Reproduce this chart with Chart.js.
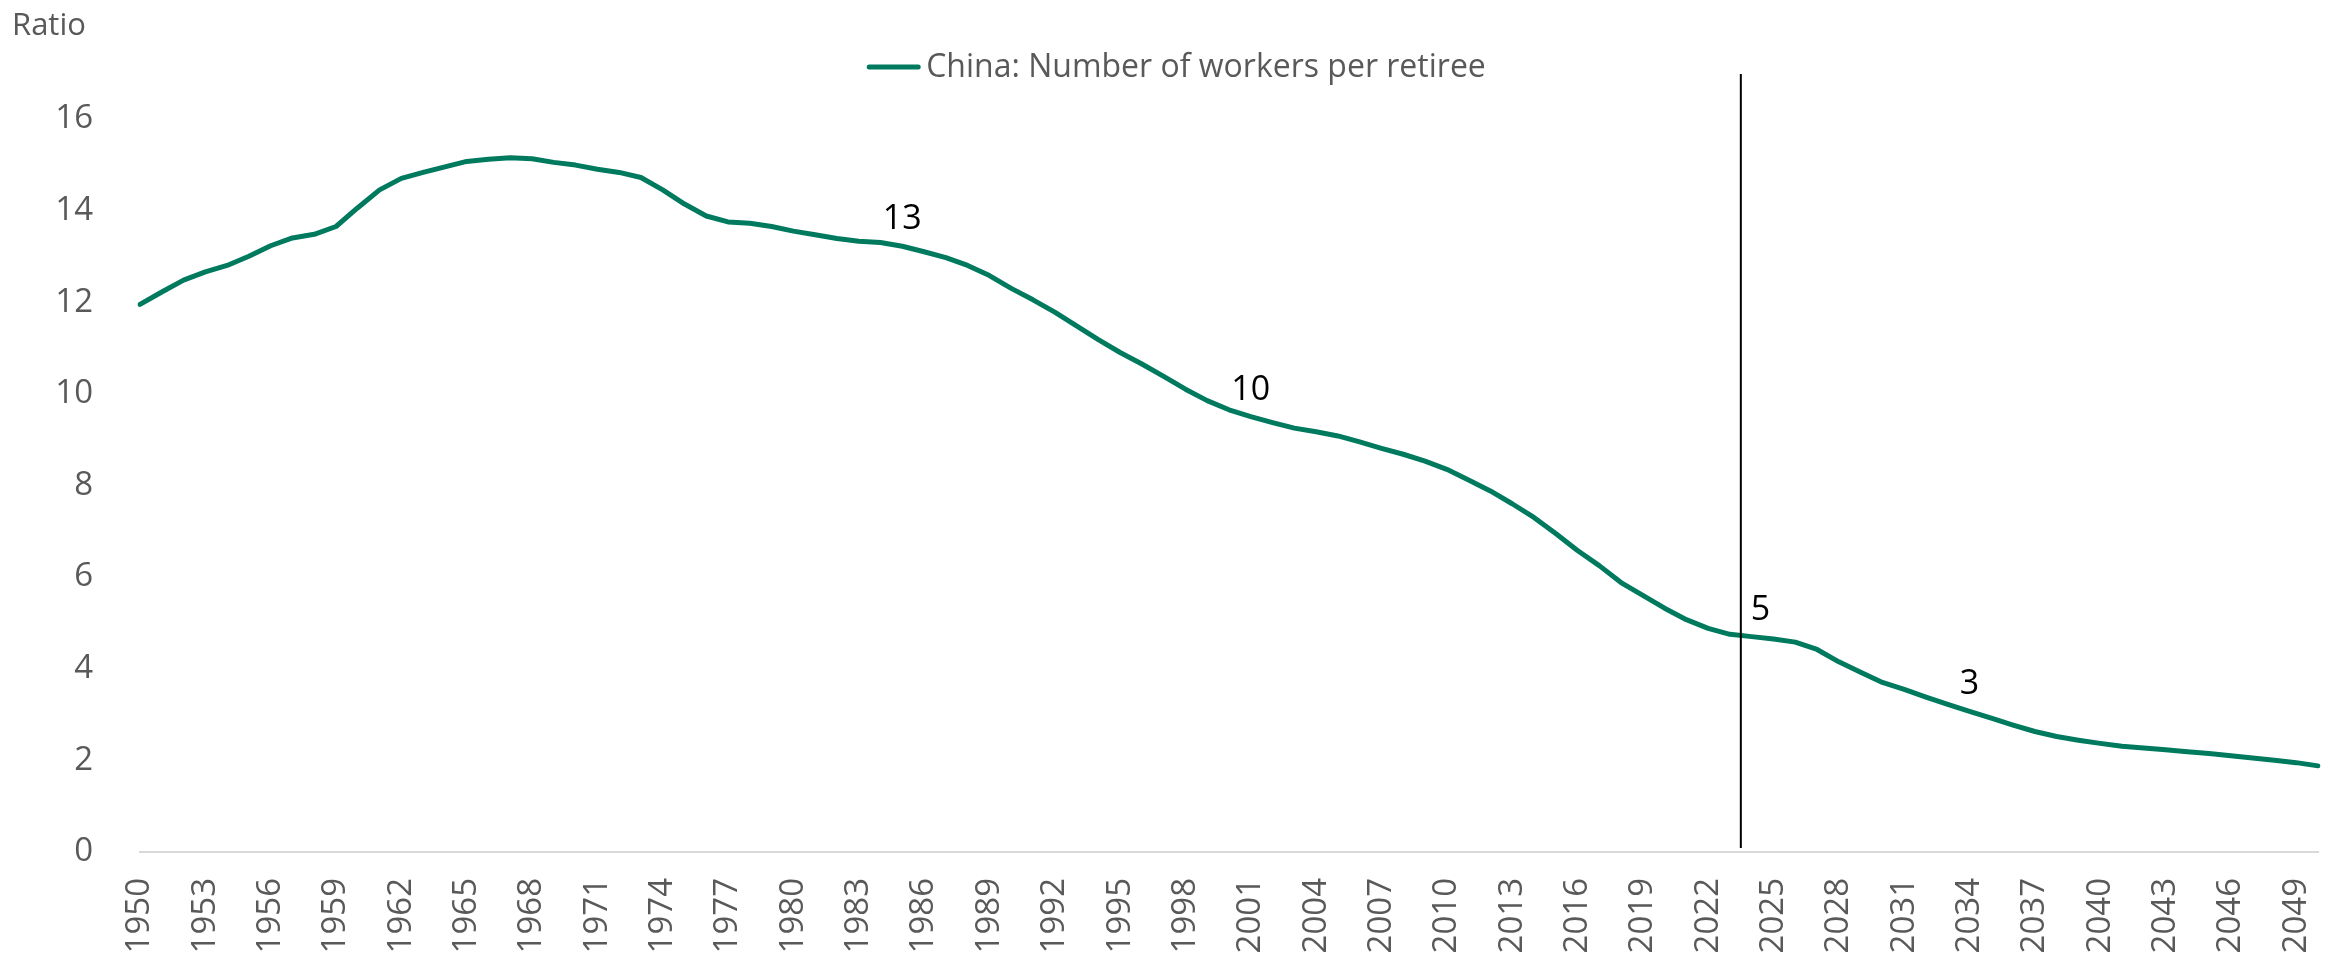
<!DOCTYPE html>
<html>
<head>
<meta charset="utf-8">
<script src="https://cdn.jsdelivr.net/npm/chart.js@4.4.1/dist/chart.umd.min.js"></script>
<style>
  html, body { margin: 0; padding: 0; background: #fff; }
  #wrap { width: 2331px; height: 954px; }
</style>
</head>
<body>
<div id="wrap"><canvas id="chart" width="2331" height="954"></canvas></div>
<script>
// categories: years 1950-2050
const years = [
  1950, 1951, 1952, 1953, 1954, 1955, 1956, 1957, 1958, 1959,
  1960, 1961, 1962, 1963, 1964, 1965, 1966, 1967, 1968, 1969,
  1970, 1971, 1972, 1973, 1974, 1975, 1976, 1977, 1978, 1979,
  1980, 1981, 1982, 1983, 1984, 1985, 1986, 1987, 1988, 1989,
  1990, 1991, 1992, 1993, 1994, 1995, 1996, 1997, 1998, 1999,
  2000, 2001, 2002, 2003, 2004, 2005, 2006, 2007, 2008, 2009,
  2010, 2011, 2012, 2013, 2014, 2015, 2016, 2017, 2018, 2019,
  2020, 2021, 2022, 2023, 2024, 2025, 2026, 2027, 2028, 2029,
  2030, 2031, 2032, 2033, 2034, 2035, 2036, 2037, 2038, 2039,
  2040, 2041, 2042, 2043, 2044, 2045, 2046, 2047, 2048, 2049,
  2050
];

// workers per retiree
const workersPerRetiree = [
  11.95, 12.22, 12.48, 12.66, 12.80, 13.00, 13.23, 13.40, 13.48, 13.65,
  14.06, 14.45, 14.70, 14.83, 14.95, 15.07, 15.12, 15.15, 15.13, 15.05,
  14.99, 14.90, 14.83, 14.72, 14.45, 14.14, 13.88, 13.75, 13.72, 13.65,
  13.55, 13.47, 13.39, 13.33, 13.30, 13.22, 13.10, 12.97, 12.80, 12.58,
  12.30, 12.05, 11.78, 11.48, 11.18, 10.90, 10.65, 10.38, 10.10, 9.85,
  9.65, 9.50, 9.37, 9.25, 9.17, 9.08, 8.95, 8.81, 8.68, 8.53,
  8.35, 8.12, 7.88, 7.60, 7.30, 6.95, 6.58, 6.25, 5.88, 5.60,
  5.32, 5.07, 4.88, 4.75, 4.70, 4.65, 4.58, 4.42, 4.15, 3.92,
  3.70, 3.55, 3.38, 3.22, 3.07, 2.92, 2.77, 2.63, 2.52, 2.44,
  2.37, 2.31, 2.27, 2.23, 2.19, 2.15, 2.10, 2.05, 2.00, 1.95,
  1.88
];

const seriesLabel = 'China: Number of workers per retiree';
const axisTitle = 'Ratio';
const yTicks = [0, 2, 4, 6, 8, 10, 12, 14, 16];
const labelledYears = [1985, 2001, 2024, 2034];
const projectionStart = 2024;

const GREEN = '#007a5e';
const GREY = '#595959';
const FONT = '"Open Sans", "Noto Sans", sans-serif';

// vertical divider + value labels
const markers = {
  id: 'markers',
  afterDatasetsDraw(chart) {
    const { ctx, chartArea, scales: { x, y } } = chart;
    const i = years.indexOf(projectionStart);
    const lineX = (x.getPixelForValue(i - 1) + x.getPixelForValue(i)) / 2;
    ctx.save();
    ctx.strokeStyle = '#000';
    ctx.lineWidth = 2;
    ctx.beginPath();
    ctx.moveTo(lineX, chartArea.top + 1);
    ctx.lineTo(lineX, chartArea.bottom - 4);
    ctx.stroke();

    ctx.font = '34px ' + FONT;
    ctx.fillStyle = '#000';
    ctx.textAlign = 'center';
    ctx.textBaseline = 'alphabetic';
    labelledYears.forEach(yr => {
      const idx = years.indexOf(yr);
      const v = workersPerRetiree[idx];
      const txt = String(Math.round(v));
      const half = ctx.measureText(txt).width / 2;
      let px = x.getPixelForValue(idx);
      if (Math.abs(px - lineX) < half + 6) px = lineX + half + 10;
      ctx.fillText(txt, px, y.getPixelForValue(v) - 17);
    });
    ctx.restore();
  }
};

// "Ratio" title and the legend
const header = {
  id: 'header',
  afterDraw(chart) {
    const { ctx } = chart;
    ctx.save();
    ctx.fillStyle = GREY;
    ctx.textBaseline = 'middle';
    ctx.textAlign = 'left';
    ctx.font = '31px ' + FONT;
    ctx.fillText(axisTitle, 12, 26);

    const ds = chart.data.datasets[0];
    ctx.font = '32px ' + FONT;
    const tw = ctx.measureText(ds.label).width;
    const sample = 55, gap = 5;
    const start = 1176 - (sample + gap + tw) / 2;
    const ly = 67;
    ctx.strokeStyle = ds.borderColor;
    ctx.lineWidth = 5;
    ctx.lineCap = 'round';
    ctx.beginPath();
    ctx.moveTo(start + 3, ly);
    ctx.lineTo(start + sample - 3, ly);
    ctx.stroke();
    ctx.fillText(ds.label, start + sample + gap, ly + 1);
    ctx.restore();
  }
};

new Chart(document.getElementById('chart'), {
  type: 'line',
  data: {
    labels: years,
    datasets: [{
      label: seriesLabel,
      data: workersPerRetiree,
      borderColor: GREEN,
      borderWidth: 5,
      pointRadius: 0,
      tension: 0,
      borderJoinStyle: 'round',
      borderCapStyle: 'round',
      fill: false
    }]
  },
  options: {
    responsive: false,
    animation: false,
    devicePixelRatio: 1,
    layout: { padding: { top: 73, right: 13, left: 0, bottom: 0 } },
    plugins: {
      legend: { display: false },
      tooltip: { enabled: false }
    },
    scales: {
      x: {
        grid: { display: false, drawTicks: false },
        border: { display: true, color: '#d9d9d9', width: 2 },
        ticks: {
          autoSkip: false,
          maxRotation: 90,
          minRotation: 90,
          padding: 26,
          color: GREY,
          font: { family: FONT, size: 33 },
          callback: (v, i) => (i % 3 === 0 ? years[i] : '')
        },
        afterFit: s => { s.height = 102; s.paddingLeft = 0; s.paddingRight = 0; }
      },
      y: {
        min: 0,
        max: 17,
        grid: { display: false, drawTicks: false },
        border: { display: false },
        ticks: {
          stepSize: 2,
          padding: 47,
          color: GREY,
          font: { family: FONT, size: 33 }
        },
        afterBuildTicks: s => { s.ticks = yTicks.map(v => ({ value: v })); },
        afterFit: s => { s.width = 140; }
      }
    }
  },
  plugins: [markers, header]
});
</script>
</body>
</html>
